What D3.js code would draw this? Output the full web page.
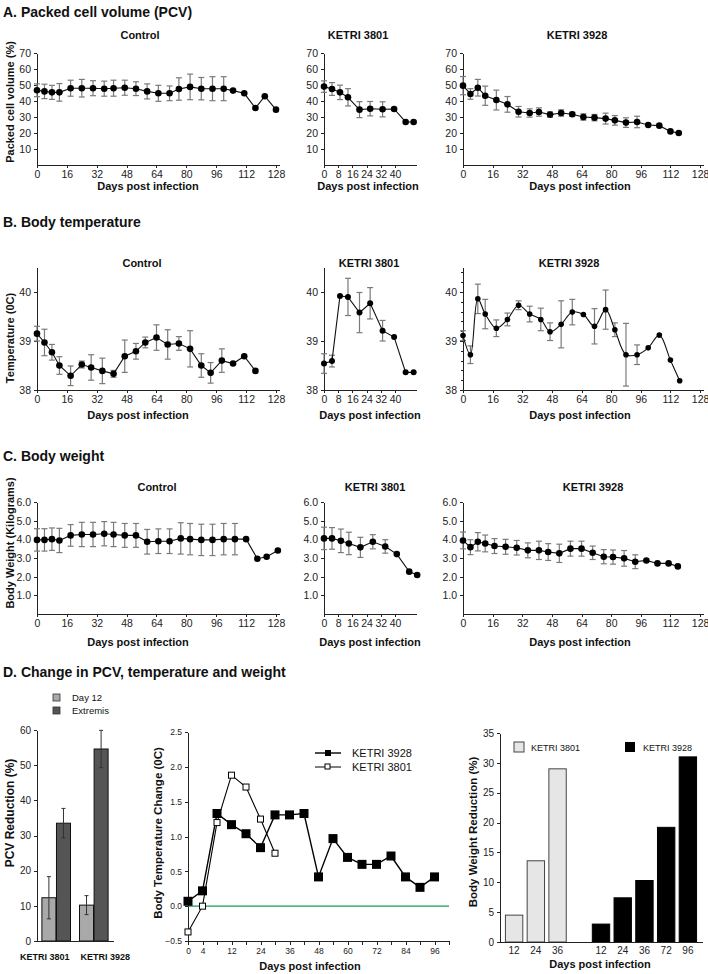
<!DOCTYPE html>
<html>
<head>
<meta charset="utf-8">
<script src="https://cdn.jsdelivr.net/npm/d3@7"></script>
<style>
  body { margin: 0; background: #fff; }
  svg text { font-family: "Liberation Sans", Arial, sans-serif; fill: #111; }
  .axis path, .axis line { stroke: #222; stroke-width: 1; shape-rendering: crispEdges; }
  .axis text { fill: #222; }
</style>
</head>
<body>
<svg id="fig" width="708" height="974"></svg>
<script>
// ---- A. packed cell volume ----
var pcvCtrlDays = [0,4,8,12,18,24,30,36,41,47,53,59,65,71,76,82,88,94,100,105,111,117,122,128];
var pcvCtrlVal  = [46.7,46,45.4,45.4,48,48,48,47.7,48,48.3,47.7,46,44.8,44.8,47.5,48.8,47.7,47.7,47.7,46.5,44.8,35.6,43,34.6];
var pcvCtrlErr  = [4,4.5,4.4,5.5,5,5.5,4.7,4.7,5,4.7,4.3,4.7,5,4.6,7,8,7,7.5,7.5,0,0,0,0,0];

var pcv3801Days = [0,4.5,9,13.5,20,26,33,39.5,46,50.5];
var pcv3801Val  = [49,47.5,45.4,42.3,34.6,35.2,34.8,35,26.9,26.9];
var pcv3801Err  = [3.6,4,4.5,5.4,5,4.5,4.7,0,0,0];

var pcv3928Days = [0,4,8,12,18,24,30,36,41,47,53,59,65,71,77,82,88,94,100,106,112,116.5];
var pcv3928Val  = [49.6,44.4,48.3,43.3,40.6,37.9,33.3,32.5,33.1,31.5,32.5,31.7,30,29.6,29,27.9,26.5,26.9,25,24.6,21,20];
var pcv3928Err  = [5.7,3.3,5.2,6,6.2,4.9,3.3,2.6,2.6,1.7,2,1.2,2,2,3.4,3,3,3.6,0,0,0,0];

// ---- B. body temperature ----
var tmpCtrlDays = [0,4,8,12,18,24,29,35,41,47,53,58,64,70,76,82,88,93,99,105,111,117];
var tmpCtrlVal  = [39.15,38.97,38.77,38.5,38.29,38.52,38.46,38.39,38.33,38.69,38.79,38.97,39.07,38.93,38.95,38.84,38.5,38.35,38.6,38.54,38.69,38.39];
var tmpCtrlErr  = [0.15,0.27,0.16,0.18,0.2,0.07,0.26,0.26,0.07,0.33,0.16,0.11,0.26,0.3,0.14,0.37,0.24,0.21,0.24,0,0,0];

var tmp3801Days = [0,4.5,9,13.5,20,26,33,39.5,46,50.5];
var tmp3801Val  = [38.54,38.59,39.92,39.9,39.58,39.77,39.21,39.08,38.36,38.36];
var tmp3801Err  = [0.2,0.12,0,0.38,0.41,0.32,0.21,0,0,0];

var tmp3928Days = [0,4,8,12,18,24,30,36,42,47,53,59,65,71,77,82,88,94,100,106,112,117];
var tmp3928Val  = [39.11,38.72,39.86,39.55,39.26,39.44,39.73,39.55,39.44,39.19,39.34,39.59,39.54,39.3,39.64,39.23,38.72,38.72,38.86,39.12,38.61,38.19];
var tmp3928Err  = [0.1,0.18,0.3,0.3,0.17,0.13,0.09,0.16,0.23,0.18,0.48,0.26,0,0.36,0.4,0.14,0.64,0.2,0,0,0,0];

// ---- C. body weight ----
var wtCtrlDays = [0,4,8,12,18,24,30,36,41,47,53,59,65,71,77,82,88,94,100,106,112,118,123,129];
var wtCtrlVal  = [3.97,3.97,4.01,3.94,4.21,4.26,4.26,4.3,4.26,4.21,4.21,3.87,3.9,3.9,4.05,4.01,3.97,3.97,4.01,4.01,4.01,2.96,3.07,3.4];
var wtCtrlErr  = [0.6,0.6,0.6,0.65,0.58,0.65,0.65,0.65,0.65,0.64,0.64,0.66,0.66,0.66,0.84,0.84,0.84,0.84,0.84,0.84,0,0,0,0];

var wt3801Days = [0,4.5,9.5,14,20.5,27.5,34.5,41,48,52.5];
var wt3801Val  = [4.05,4.05,3.92,3.78,3.57,3.87,3.62,3.21,2.27,2.09];
var wt3801Err  = [0.6,0.58,0.63,0.6,0.54,0.38,0.36,0,0,0];

var wt3928Days = [0,4,8,12,17,23,29,35,41,46,52,58,64,70,76,81,87,93,99,105,111,116];
var wt3928Val  = [3.94,3.58,3.87,3.78,3.64,3.6,3.55,3.41,3.41,3.32,3.25,3.5,3.5,3.28,3.07,3.05,2.98,2.8,2.87,2.71,2.71,2.55];
var wt3928Err  = [0.45,0.4,0.49,0.45,0.4,0.4,0.39,0.4,0.49,0.45,0.49,0.4,0.4,0.36,0.38,0.38,0.42,0.37,0,0,0,0];

// ---- D. changes ----
var pcvGroups    = ["KETRI 3801", "KETRI 3928"];
var pcvSeries    = ["Day 12", "Extremis"];
var pcvDay12     = [12.3, 10.2];
var pcvDay12Err  = [6, 2.7];
var pcvExtremis  = [33.5, 54.6];
var pcvExtErr    = [4.2, 5.3];

var tcCats    = [0,4,8,12,18,24,30,36,42,48,54,60,66,72,78,84,90,96,102];
var tcLabels  = [0,4,12,24,36,48,60,72,84,96];
var tc3928Days = [0,4,8,12,18,24,30,36,42,48,54,60,66,72,78,84,90,96];
var tc3928Val  = [0.07,0.22,1.33,1.17,1.04,0.84,1.31,1.31,1.33,0.42,0.97,0.70,0.60,0.60,0.72,0.42,0.27,0.42];
var tc3801Days = [0,4,8,12,18,24,30];
var tc3801Val  = [-0.37,0.0,1.2,1.88,1.71,1.25,0.76];

var wr3801Days = ["12","24","36"];
var wr3801Val  = [4.5, 13.6, 29];
var wr3928Days = ["12","24","36","72","96"];
var wr3928Val  = [3, 7.4, 10.3, 19.2, 31];

var xTicks128 = [0,16,32,48,64,80,96,112,128];
var xTicks40  = [0,8,16,24,32,40];

var svg = d3.select("#fig");

svg.append("rect").attr("width", 708).attr("height", 974).attr("fill", "#fff");

function heading(txt, y) {
  svg.append("text")
      .attr("x", 3)
      .attr("y", y)
      .style("font-size", "14px")
      .style("font-weight", "bold")
      .text(txt);
}

function yLabel(txt, x, cy, size) {
  svg.append("text")
      .attr("transform", "translate(" + x + "," + cy + ") rotate(-90)")
      .attr("text-anchor", "middle")
      .attr("dy", "0.35em")
      .style("font-size", (size || 11) + "px")
      .style("font-weight", "bold")
      .text(txt);
}

// one small time course panel
function timePanel(col, row, p) {
  var x = d3.scaleLinear().domain(col.dom).range([col.x0, col.x0 + col.dom[1] * col.k]);
  var y = d3.scaleLinear().domain(row.dom).range(row.range);
  var g = svg.append("g");

  g.append("g")
      .attr("class", "axis")
      .attr("transform", "translate(0," + row.range[0] + ")")
      .call(d3.axisBottom(x).tickValues(col.ticks).tickSize(3).tickSizeOuter(0))
      .selectAll("text").style("font-size", "10.5px");

  if (row.minor) {
    g.append("g")
        .attr("class", "axis")
        .attr("transform", "translate(" + col.x0 + ",0)")
        .call(d3.axisLeft(y).tickValues(row.minor).tickSize(2).tickFormat(""))
        .select("path").remove();
  }

  g.append("g")
      .attr("class", "axis")
      .attr("transform", "translate(" + col.x0 + ",0)")
      .call(d3.axisLeft(y).tickValues(row.ticks).tickSize(3).tickSizeOuter(0).tickFormat(row.fmt))
      .selectAll("text").style("font-size", "10.5px");

  var pts = p.days.map(function(d, i) { return {d: d, v: p.vals[i], e: p.errs[i]}; });

  // error bars
  var eb = g.selectAll(".eb").data(pts.filter(function(d) { return d.e > 0; }))
    .enter().append("g").attr("stroke", "#7a7a7a").attr("stroke-width", 1.2);
  eb.append("line")
      .attr("x1", function(d) { return x(d.d); })
      .attr("x2", function(d) { return x(d.d); })
      .attr("y1", function(d) { return y(d.v - d.e); })
      .attr("y2", function(d) { return y(d.v + d.e); });
  eb.append("line")
      .attr("x1", function(d) { return x(d.d) - 3; })
      .attr("x2", function(d) { return x(d.d) + 3; })
      .attr("y1", function(d) { return y(d.v + d.e); })
      .attr("y2", function(d) { return y(d.v + d.e); });
  eb.append("line")
      .attr("x1", function(d) { return x(d.d) - 3; })
      .attr("x2", function(d) { return x(d.d) + 3; })
      .attr("y1", function(d) { return y(d.v - d.e); })
      .attr("y2", function(d) { return y(d.v - d.e); });

  var line = d3.line()
      .x(function(d) { return x(d.d); })
      .y(function(d) { return y(d.v); })
      .curve(p.curve || d3.curveLinear);

  g.append("path")
      .datum(pts)
      .attr("fill", "none")
      .attr("stroke", "#111")
      .attr("stroke-width", 1.1)
      .attr("d", line);

  g.selectAll(".dot").data(pts)
    .enter().append("circle")
      .attr("cx", function(d) { return x(d.d); })
      .attr("cy", function(d) { return y(d.v); })
      .attr("r", p.r || 3.3)
      .attr("fill", "#000");

  g.append("text")
      .attr("x", p.titleX)
      .attr("y", row.titleY)
      .attr("text-anchor", "middle")
      .style("font-size", "11px")
      .style("font-weight", "bold")
      .text(p.title);

  g.append("text")
      .attr("x", p.labelX)
      .attr("y", row.labelY)
      .attr("text-anchor", "middle")
      .style("font-size", "11px")
      .style("font-weight", "bold")
      .text("Days post infection");
}

var colCtrl = {x0: 37,  dom: [0,130], k: 1.867, ticks: xTicks128};
var col3801 = {x0: 324, dom: [0,52],  k: 1.775, ticks: xTicks40};
var col3928 = {x0: 463, dom: [0,130], k: 1.852, ticks: xTicks128};

var rowA = {dom: [0,70], range: [165,53], ticks: [10,20,30,40,50,60,70], fmt: d3.format("d"), titleY: 39, labelY: 190};
var rowB = {dom: [38,40.5], range: [390,267.5], ticks: [38,39,40], fmt: d3.format("d"), titleY: 267, labelY: 419};
var rowB2 = Object.assign({}, rowB, {minor: d3.range(38.2, 40.5, 0.2)});
var rowC = {dom: [0,6], range: [614,502], ticks: [1,2,3,4,5,6], fmt: d3.format(".1f"), titleY: 491, labelY: 646};

heading("A. Packed cell volume (PCV)", 17);
yLabel("Packed cell volume (%)", 10, 102);
timePanel(colCtrl, rowA, {days: pcvCtrlDays, vals: pcvCtrlVal, errs: pcvCtrlErr, title: "Control", titleX: 140, labelX: 148});
timePanel(col3801, rowA, {days: pcv3801Days, vals: pcv3801Val, errs: pcv3801Err, title: "KETRI 3801", titleX: 358, labelX: 368});
timePanel(col3928, rowA, {days: pcv3928Days, vals: pcv3928Val, errs: pcv3928Err, title: "KETRI 3928", titleX: 577, labelX: 580});

heading("B. Body temperature", 227);
yLabel("Temperature (0C)", 10, 338);
timePanel(colCtrl, rowB, {days: tmpCtrlDays, vals: tmpCtrlVal, errs: tmpCtrlErr, title: "Control", titleX: 142, labelX: 138});
timePanel(col3801, rowB, {days: tmp3801Days, vals: tmp3801Val, errs: tmp3801Err, title: "KETRI 3801", titleX: 369, labelX: 370, r: 3});
timePanel(col3928, rowB2, {days: tmp3928Days, vals: tmp3928Val, errs: tmp3928Err, title: "KETRI 3928", titleX: 569, labelX: 580, r: 2.8, curve: d3.curveCatmullRom});

heading("C. Body weight", 461);
yLabel("Body Weight (Kilograms)", 10, 543);
timePanel(colCtrl, rowC, {days: wtCtrlDays, vals: wtCtrlVal, errs: wtCtrlErr, title: "Control", titleX: 157, labelX: 138});
timePanel(col3801, rowC, {days: wt3801Days, vals: wt3801Val, errs: wt3801Err, title: "KETRI 3801", titleX: 375, labelX: 370});
timePanel(col3928, rowC, {days: wt3928Days, vals: wt3928Val, errs: wt3928Err, title: "KETRI 3928", titleX: 593, labelX: 580});

heading("D. Change in PCV, temperature and weight", 677);

// ---- D left: PCV reduction bars ----
(function() {
  var y = d3.scaleLinear().domain([0,60]).range([941,730]);
  var x0 = d3.scaleBand().domain(pcvGroups).range([37,113]).paddingInner(0.24).paddingOuter(0.13);
  var x1 = d3.scaleBand().domain(pcvSeries).range([0, x0.bandwidth()]).paddingInner(0.04);
  var fills = {"Day 12": "#a9a9a9", "Extremis": "#555555"};
  var g = svg.append("g");

  var rows = [];
  pcvGroups.forEach(function(grp, i) {
    rows.push({grp: grp, s: "Day 12", v: pcvDay12[i], e: pcvDay12Err[i]});
    rows.push({grp: grp, s: "Extremis", v: pcvExtremis[i], e: pcvExtErr[i]});
  });

  g.selectAll(".bar").data(rows).enter().append("rect")
      .attr("x", function(d) { return x0(d.grp) + x1(d.s); })
      .attr("y", function(d) { return y(d.v); })
      .attr("width", x1.bandwidth())
      .attr("height", function(d) { return y(0) - y(d.v); })
      .attr("fill", function(d) { return fills[d.s]; })
      .attr("stroke", "#111")
      .attr("stroke-width", 1);

  var eb = g.selectAll(".eb").data(rows).enter().append("g").attr("stroke", "#333").attr("stroke-width", 1);
  function cx(d) { return x0(d.grp) + x1(d.s) + x1.bandwidth() / 2; }
  eb.append("line").attr("x1", cx).attr("x2", cx)
      .attr("y1", function(d) { return y(d.v - d.e); })
      .attr("y2", function(d) { return y(d.v + d.e); });
  eb.append("line").attr("x1", function(d) { return cx(d) - 2; }).attr("x2", function(d) { return cx(d) + 2; })
      .attr("y1", function(d) { return y(d.v + d.e); }).attr("y2", function(d) { return y(d.v + d.e); });
  eb.append("line").attr("x1", function(d) { return cx(d) - 2; }).attr("x2", function(d) { return cx(d) + 2; })
      .attr("y1", function(d) { return y(d.v - d.e); }).attr("y2", function(d) { return y(d.v - d.e); });

  g.append("g").attr("class", "axis").attr("transform", "translate(37,0)")
      .call(d3.axisLeft(y).ticks(6).tickSize(3).tickSizeOuter(0))
      .selectAll("text").style("font-size", "10px");
  g.append("g").attr("class", "axis").attr("transform", "translate(0,941)")
      .call(d3.axisBottom(x0).tickSize(0).tickFormat(""));

  // group names sit outside their bars so they don't collide
  g.selectAll(".glab").data(pcvGroups).enter().append("text")
      .attr("x", function(d, i) { return i === 0 ? x0(d) + x0.bandwidth() - 1 : x0(d) + 1; })
      .attr("y", 960)
      .attr("text-anchor", function(d, i) { return i === 0 ? "end" : "start"; })
      .style("font-size", "9px")
      .style("font-weight", "bold")
      .text(function(d) { return d; });

  // legend
  pcvSeries.forEach(function(s, i) {
    g.append("rect").attr("x", 53).attr("y", 694 + i * 13).attr("width", 7).attr("height", 7)
        .attr("fill", fills[s]).attr("stroke", "#333").attr("stroke-width", 0.8);
    g.append("text").attr("x", 72).attr("y", 701 + i * 13).style("font-size", "9.5px").text(s);
  });

  yLabel("PCV Reduction (%)", 10, 813, 12);
})();

// ---- D middle: temperature change ----
(function() {
  var x = d3.scalePoint().domain(tcCats).range([188,449]);
  var y = d3.scaleLinear().domain([-0.5,2.5]).range([941,732]);
  var g = svg.append("g");

  g.append("g").attr("class", "axis").attr("transform", "translate(188,0)")
      .call(d3.axisLeft(y).tickValues([-0.5,0,0.5,1,1.5,2,2.5]).tickSize(3).tickSizeOuter(0).tickFormat(d3.format(".1f")))
      .selectAll("text").style("font-size", "8.5px");
  g.append("g").attr("class", "axis").attr("transform", "translate(0,941)")
      .call(d3.axisBottom(x).tickSize(4).tickSizeOuter(0)
        .tickFormat(function(d) { return tcLabels.indexOf(d) >= 0 ? d : ""; }))
      .selectAll("text").style("font-size", "8.5px");

  g.append("line")
      .attr("x1", 188).attr("x2", 449)
      .attr("y1", y(0)).attr("y2", y(0))
      .attr("stroke", "#1a9a55").attr("stroke-width", 1.3);

  var line = d3.line().x(function(d) { return x(d.d); }).y(function(d) { return y(d.v); });
  var a = tc3928Days.map(function(d, i) { return {d: d, v: tc3928Val[i]}; });
  var b = tc3801Days.map(function(d, i) { return {d: d, v: tc3801Val[i]}; });

  g.append("path").datum(a).attr("fill", "none").attr("stroke", "#000").attr("stroke-width", 1.4).attr("d", line);
  g.selectAll(".sq1").data(a).enter().append("rect")
      .attr("x", function(d) { return x(d.d) - 4.5; })
      .attr("y", function(d) { return y(d.v) - 4.5; })
      .attr("width", 9).attr("height", 9).attr("fill", "#000");

  g.append("path").datum(b).attr("fill", "none").attr("stroke", "#000").attr("stroke-width", 1.1).attr("d", line);
  g.selectAll(".sq2").data(b).enter().append("rect")
      .attr("x", function(d) { return x(d.d) - 3; })
      .attr("y", function(d) { return y(d.v) - 3; })
      .attr("width", 6).attr("height", 6).attr("fill", "#fff").attr("stroke", "#000").attr("stroke-width", 1);

  // legend
  g.append("line").attr("x1", 315).attr("x2", 341).attr("y1", 753).attr("y2", 753).attr("stroke", "#000").attr("stroke-width", 1.4);
  g.append("rect").attr("x", 325).attr("y", 750).attr("width", 6).attr("height", 6).attr("fill", "#000");
  g.append("text").attr("x", 352).attr("y", 757).style("font-size", "11px").text("KETRI 3928");
  g.append("line").attr("x1", 315).attr("x2", 341).attr("y1", 767).attr("y2", 767).attr("stroke", "#000").attr("stroke-width", 1);
  g.append("rect").attr("x", 325).attr("y", 764).attr("width", 5).attr("height", 5).attr("fill", "#fff").attr("stroke", "#000");
  g.append("text").attr("x", 352).attr("y", 771).style("font-size", "11px").text("KETRI 3801");

  g.append("text").attr("x", 310).attr("y", 970).attr("text-anchor", "middle")
      .style("font-size", "11px").style("font-weight", "bold").text("Days post infection");
  yLabel("Body Temperature Change (0C)", 158, 833, 11.5);
})();

// ---- D right: weight reduction ----
(function() {
  var keys = wr3801Days.map(function(d) { return "a" + d; })
      .concat(["gap"])
      .concat(wr3928Days.map(function(d) { return "b" + d; }));
  var x = d3.scaleBand().domain(keys).range([500,702]).paddingInner(0.2).paddingOuter(0.25);
  var y = d3.scaleLinear().domain([0,35]).range([942,733]);
  var g = svg.append("g");

  var bars = wr3801Days.map(function(d, i) { return {k: "a" + d, lab: d, v: wr3801Val[i], s: "3801"}; })
      .concat(wr3928Days.map(function(d, i) { return {k: "b" + d, lab: d, v: wr3928Val[i], s: "3928"}; }));

  g.selectAll(".bar").data(bars).enter().append("rect")
      .attr("x", function(d) { return x(d.k); })
      .attr("y", function(d) { return y(d.v); })
      .attr("width", x.bandwidth())
      .attr("height", function(d) { return y(0) - y(d.v); })
      .attr("fill", function(d) { return d.s === "3801" ? "#e6e6e6" : "#000"; })
      .attr("stroke", function(d) { return d.s === "3801" ? "#444" : "#000"; })
      .attr("stroke-width", 1);

  g.append("g").attr("class", "axis").attr("transform", "translate(500,0)")
      .call(d3.axisLeft(y).tickValues([0,5,10,15,20,25,30,35]).tickSize(3).tickSizeOuter(0))
      .selectAll("text").style("font-size", "10px");
  g.append("g").attr("class", "axis").attr("transform", "translate(0,942)")
      .call(d3.axisBottom(x).tickSize(0).tickSizeOuter(0).tickPadding(5)
        .tickFormat(function(k) { return k === "gap" ? "" : k.slice(1); }))
      .selectAll("text").style("font-size", "10px");

  g.append("rect").attr("x", 514).attr("y", 742).attr("width", 10).attr("height", 10)
      .attr("fill", "#e6e6e6").attr("stroke", "#444");
  g.append("text").attr("x", 531).attr("y", 751).style("font-size", "9px").text("KETRI 3801");
  g.append("rect").attr("x", 625).attr("y", 742).attr("width", 10).attr("height", 10).attr("fill", "#000");
  g.append("text").attr("x", 643).attr("y", 751).style("font-size", "9px").text("KETRI 3928");

  g.append("text").attr("x", 600).attr("y", 968).attr("text-anchor", "middle")
      .style("font-size", "11px").style("font-weight", "bold").text("Days post infection");
  yLabel("Body Weight Reduction (%)", 473, 832, 11.5);
})();
</script>
</body>
</html>
